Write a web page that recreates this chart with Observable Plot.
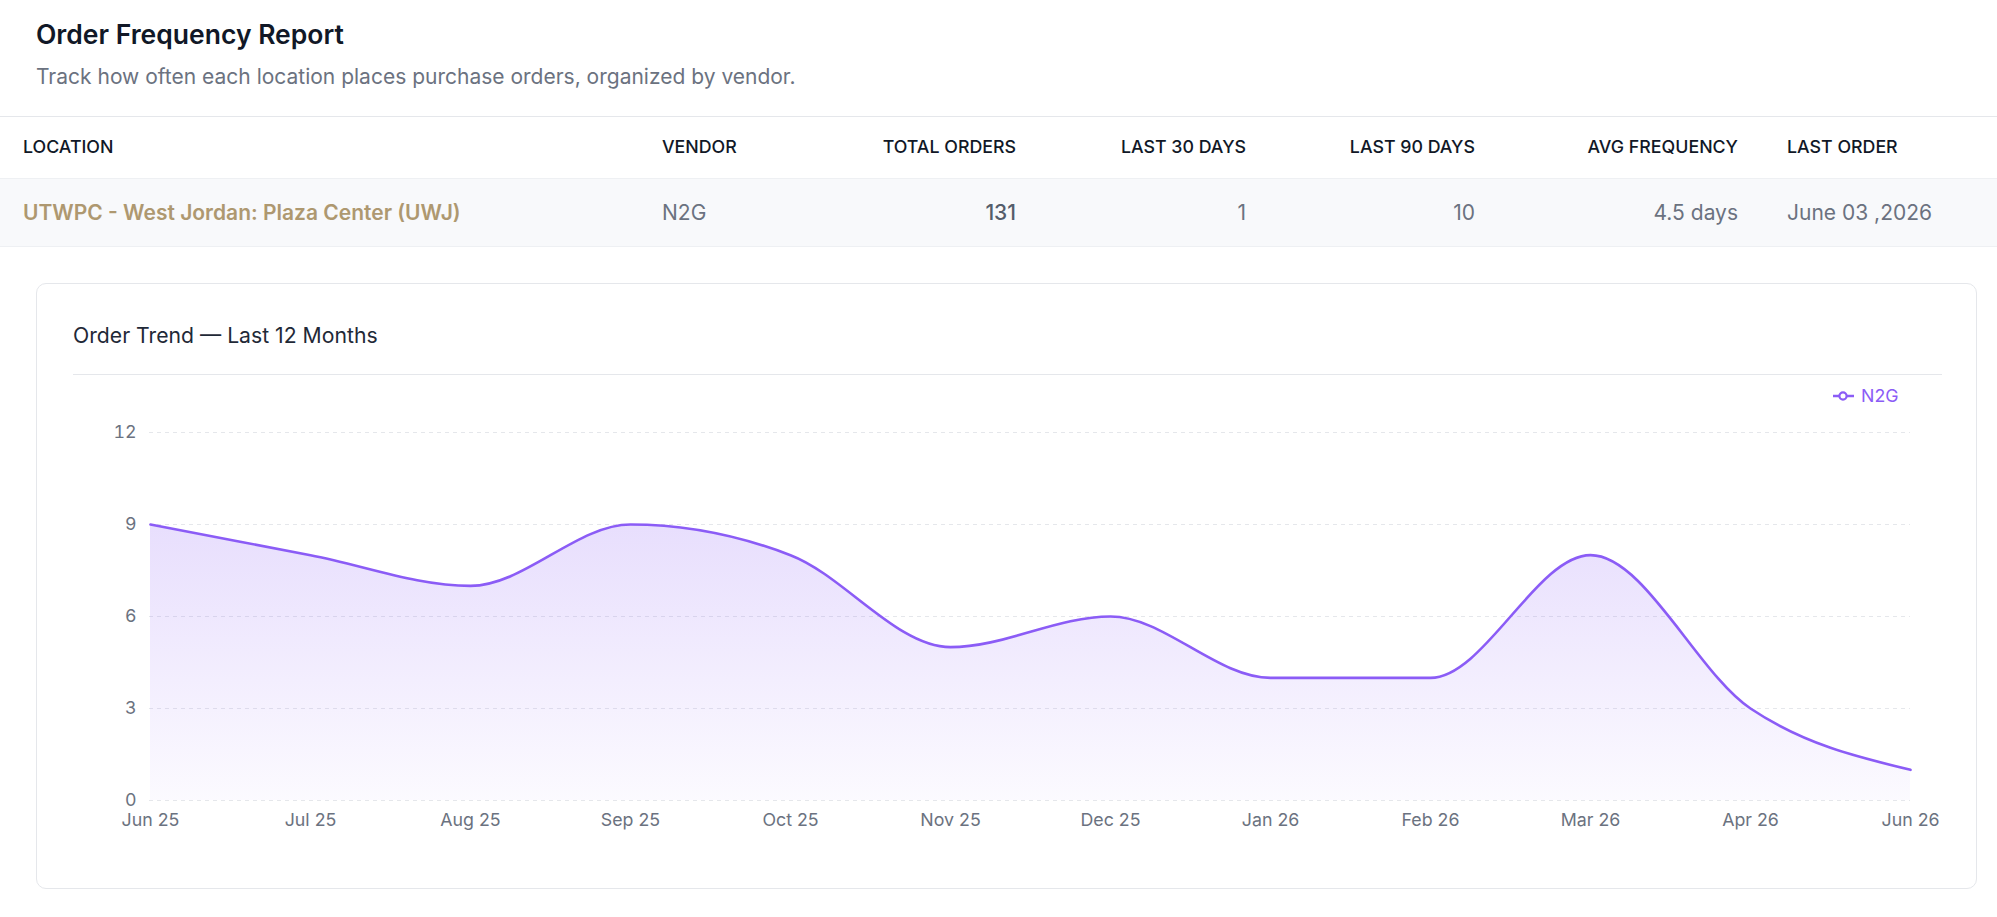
<!DOCTYPE html>
<html>
<head>
<meta charset="utf-8">
<script src="https://cdn.jsdelivr.net/npm/d3@7"></script>
<script src="https://cdn.jsdelivr.net/npm/@observablehq/plot@0.6"></script>
<style>
  html, body { margin: 0; padding: 0; background: #ffffff; }
  body { font-family: Inter, "Noto Sans", sans-serif; }
  #page { position: relative; width: 1997px; height: 917px; overflow: hidden; }
  .abs { position: absolute; line-height: 1; white-space: nowrap; }
  .title { left: 36px; top: 21px; font-size: 26.5px; font-weight: 600; color: #111827; }
  .subtitle { left: 36px; top: 65.5px; font-size: 21px; color: #6b7280; }
  .rule-top { position: absolute; left: 0; top: 116px; width: 1997px; height: 1px; background: #e5e7eb; }
  .row-bg { position: absolute; left: 0; top: 178px; width: 1997px; height: 67px; background: #f8f9fb;
            border-top: 1px solid #eef0f3; border-bottom: 1px solid #eef0f3; }
  .th { top: 138px; font-size: 17.8px; font-weight: 500; color: #111827; }
  .td { top: 202px; font-size: 21px; color: #6b7280; }
  .loc { font-weight: 600; color: #ae9870; }
  .strong { font-weight: 500; color: #555d6b; }
  .card { position: absolute; left: 36px; top: 283px; width: 1941px; height: 606px;
          border: 1px solid #e5e7eb; border-radius: 10px; box-sizing: border-box; }
  .card-title { left: 73px; top: 324.5px; font-size: 21.2px; font-weight: 400; color: #1f2937; }
  .card-rule { position: absolute; left: 73px; top: 374px; width: 1869px; height: 1px; background: #e5e7eb; }
  .legend { left: 1833px; top: 387px; font-size: 17.8px; color: #8b5cf6; display: flex; align-items: center; gap: 7px; }
  #chart { position: absolute; left: 73px; top: 405px; }
</style>
</head>
<body>
<div id="page">
  <div class="abs title">Order Frequency Report</div>
  <div class="abs subtitle">Track how often each location places purchase orders, organized by vendor.</div>
  <div class="rule-top"></div>
  <div class="row-bg"></div>
  <div id="table"></div>
  <div class="card"></div>
  <div class="abs card-title">Order Trend — Last 12 Months</div>
  <div class="card-rule"></div>
  <div class="abs legend">
    <svg width="21" height="10" viewBox="0 0 21 10">
      <line x1="0" y1="5" x2="21" y2="5" stroke="#8b5cf6" stroke-width="2.5"/>
      <circle cx="10" cy="5" r="3.6" fill="#ffffff" stroke="#8b5cf6" stroke-width="2.2"/>
    </svg>
    <span id="legend-label"></span>
  </div>
  <div id="chart"></div>
</div>
<script>
// Summary table
const columns = ["LOCATION", "VENDOR", "TOTAL ORDERS", "LAST 30 DAYS", "LAST 90 DAYS", "AVG FREQUENCY", "LAST ORDER"];
const rowValues = ["UTWPC - West Jordan: Plaza Center (UWJ)", "N2G", "131", "1", "10", "4.5 days", "June 03 ,2026"];

// Monthly order counts for the trend chart
const vendor = "N2G";
const months = ["Jun 25", "Jul 25", "Aug 25", "Sep 25", "Oct 25", "Nov 25", "Dec 25", "Jan 26", "Feb 26", "Mar 26", "Apr 26", "Jun 26"];
const orders = [9, 8, 7, 9, 8, 5, 6, 4, 4, 8, 3, 1];
const yTicks = [0, 3, 6, 9, 12];

// Column placement: left-aligned columns give a left edge, numeric ones a right edge
const colLayout = [
  {left: 23}, {left: 662}, {right: 1016}, {right: 1246}, {right: 1475}, {right: 1738}, {left: 1787}
];
const cellClass = ["loc", "", "strong", "", "", "", ""];

const table = document.getElementById("table");
columns.forEach((name, i) => {
  for (const [text, cls] of [[name, "th"], [rowValues[i], "td " + cellClass[i]]]) {
    const el = document.createElement("div");
    el.className = "abs " + cls;
    el.textContent = text;
    const pos = colLayout[i];
    if (pos.left != null) el.style.left = pos.left + "px";
    else { el.style.right = (1997 - pos.right) + "px"; el.style.textAlign = "right"; }
    table.appendChild(el);
  }
});
document.getElementById("legend-label").textContent = vendor;

const data = months.map((month, i) => ({month, orders: orders[i]}));

// Vertical fade under the line
const gradientDefs = () => {
  const defs = d3.create("svg:defs");
  const g = defs.append("linearGradient")
    .attr("id", "orderFill").attr("x1", 0).attr("y1", 0).attr("x2", 0).attr("y2", 1);
  g.append("stop").attr("offset", "0%").attr("stop-color", "#8b5cf6").attr("stop-opacity", 0.2);
  g.append("stop").attr("offset", "100%").attr("stop-color", "#8b5cf6").attr("stop-opacity", 0.03);
  return defs.node();
};

const chart = Plot.plot({
  width: 1869,
  height: 460,
  marginLeft: 76,
  marginRight: 32,
  marginTop: 27,
  marginBottom: 65,
  style: {fontFamily: "Inter, sans-serif", fontSize: "17.8px", color: "#6b7280", background: "transparent", overflow: "visible"},
  x: {type: "point", domain: months, padding: 0, label: null, tickSize: 0, tickPadding: 13},
  y: {domain: [0, 12], ticks: yTicks, label: null, tickSize: 0, tickPadding: 13},
  marks: [
    gradientDefs,
    Plot.ruleY(yTicks, {stroke: "#e5e7eb", strokeWidth: 1.2, strokeDasharray: "4 4"}),
    Plot.areaY(data, {x: "month", y: "orders", curve: "monotone-x", fill: "url(#orderFill)"}),
    Plot.lineY(data, {x: "month", y: "orders", curve: "monotone-x", stroke: "#8b5cf6", strokeWidth: 2.6})
  ]
});
document.getElementById("chart").appendChild(chart);
</script>
</body>
</html>
